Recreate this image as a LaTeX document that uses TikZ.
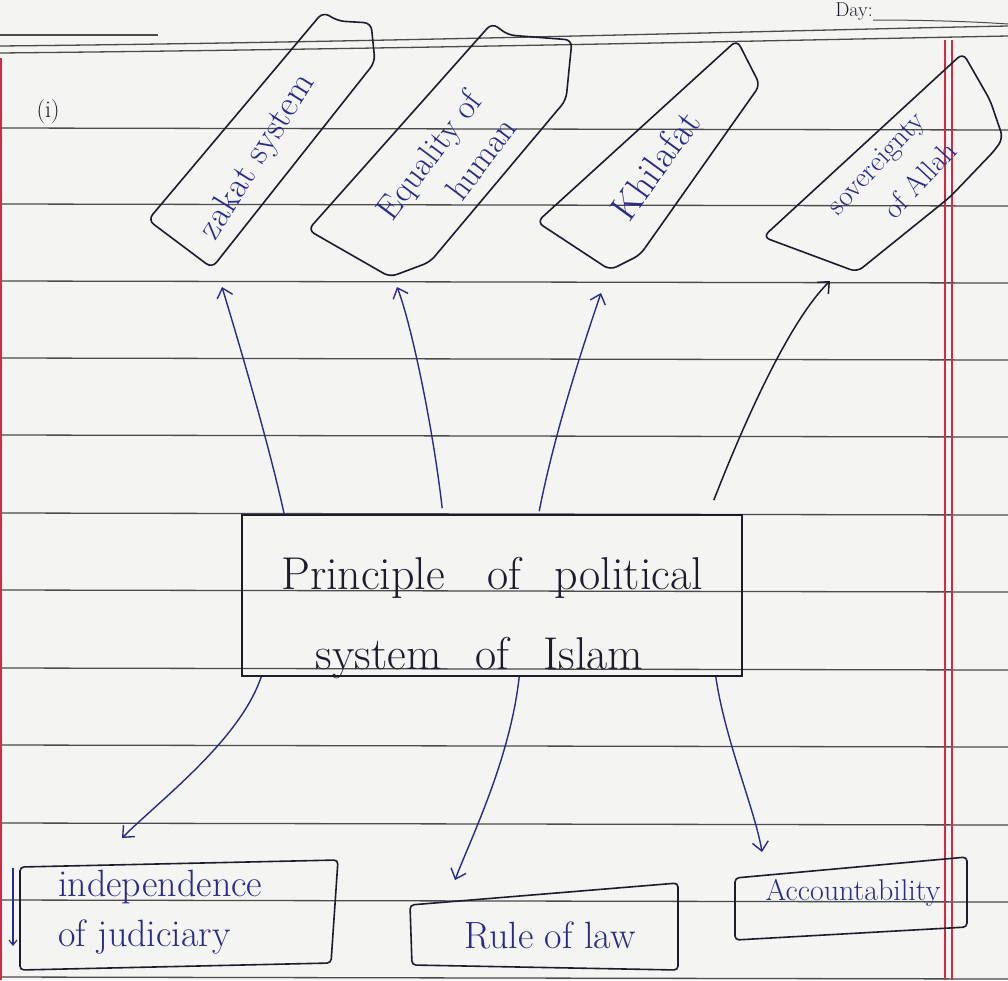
\documentclass[tikz,border=0pt]{standalone}
\usetikzlibrary{arrows.meta}
\definecolor{paper}{RGB}{244,244,242}
\definecolor{rulec}{RGB}{75,75,75}
\definecolor{bink}{RGB}{40,42,140}
\definecolor{kink}{RGB}{28,28,45}
\definecolor{marginc}{RGB}{215,40,70}
\begin{document}
\begin{tikzpicture}[x=1pt,y=-1pt,
  ruleline/.style={draw=rulec, line width=1.3pt},
  inkbox/.style={draw=kink, line width=1.6pt, rounded corners=7pt},
  conn/.style={draw=bink, line width=1.4pt, -{Straight Barb[length=9pt,width=16pt]}},
  kconn/.style={draw=kink, line width=1.5pt, -{Straight Barb[length=9pt,width=16pt]}},
  hand/.style={text=bink, inner sep=0pt},
  ktext/.style={text=kink, inner sep=0pt},
]
\fill[paper] (0,0) rectangle (1008,980);
\useasboundingbox (0,0) rectangle (1008,980);

% ruled paper
\foreach \yy in {128,204,281,358,435,513,590,668,745,823,900,977}
  \draw[ruleline] (0,\yy) -- (1008,\yy+2);
\draw[ruleline] (0,46) .. controls (400,42) and (800,30) .. (1008,26);
\draw[ruleline] (0,53) .. controls (400,49) and (800,40) .. (1008,36);
\draw[ruleline] (0,35) -- (158,35);
\draw[rulec, line width=1pt] (873,20) .. controls (930,20) and (980,22) .. (1008,24);
\node[ktext, font=\fontsize{20}{22}\selectfont, anchor=east] (day) at (873,12) {Day:};
\draw[marginc, line width=1.2pt] (945,40) -- (945,980);
\draw[marginc, line width=1.2pt] (952,40) -- (952,980);
\draw[marginc, line width=1.5pt] (1,58) -- (1,980);

\node[ktext, font=\fontsize{24}{26}\selectfont] (num) at (48,112) {(i)};

% central box
\node[draw=kink, line width=1.6pt, minimum width=500pt, minimum height=161pt, inner sep=0pt] (main) at (492,595.5) {};
\node[ktext, font=\fontsize{46}{80}\selectfont, align=center] (maintext) at (492,618)
  {Principle\hspace{42pt}of\hspace{34pt}political\\system\hspace{34pt}of\hspace{34pt}Islam\hspace*{25pt}};

% top boxes
\draw[inkbox] (148,220) -- (323,12) -- (338,21) -- (371,23) -- (375,62) -- (212,268) -- cycle;
\node[hand, font=\fontsize{36}{40}\selectfont, rotate=58] (zakat) at (258,157) {zakat system};

\draw[inkbox] (308,230) -- (492,23) -- (508,35) -- (572,40) -- (566,100) -- (430,262) -- (390,277) -- cycle;
\node[hand, font=\fontsize{34}{44}\selectfont, rotate=53, align=right] (equal) at (446,168) {Equality of\\human};

\draw[inkbox] (537,222) -- (737,40) -- (760,85) -- (640,255) -- (610,270) -- cycle;
\node[hand, font=\fontsize{38}{40}\selectfont, rotate=54] (khil) at (655,165) {Khilafat};

\draw[inkbox] (763,237) -- (963,53) -- (990,100) -- (1003,138) -- (995,150) -- (950,197) -- (857,272) -- cycle;
\node[hand, font=\fontsize{29}{44}\selectfont, rotate=47, align=right] (sov) at (892,178) {sovereignty\\of Allah};

% bottom boxes
\draw[inkbox, rounded corners=4pt] (20,867) -- (338,860) -- (331,963) -- (20,970) -- cycle;
\draw[bink, line width=1.2pt, -{Straight Barb[length=5pt,width=8pt]}] (13,868) -- (13,946);
\node[hand, font=\fontsize{38}{50}\selectfont, align=left, anchor=west] (indep) at (58,912) {independence\\of judiciary};

\draw[inkbox, rounded corners=4pt] (410,905) -- (678,883) -- (678,970) -- (412,965) -- cycle;
\node[hand, font=\fontsize{38}{40}\selectfont] (rule) at (550,935) {Rule of law};

\draw[inkbox, rounded corners=4pt] (735,878) -- (967,857) -- (967,927) -- (735,940) -- cycle;
\node[hand, font=\fontsize{30}{32}\selectfont] (acc) at (853,893) {Accountability};

% arrow ends
\coordinate (t1) at (222,287);
\coordinate (t2) at (397,287);
\coordinate (t3) at (601,293);
\coordinate (t4) at (830,281);
\coordinate (b1) at (122,838);
\coordinate (b2) at (455,880);
\coordinate (b3) at (762,852);

% connectors
\draw[conn] ([xshift=43pt]main.north west) .. controls (268,440) and (235,330) .. (t1);
\draw[conn] ([xshift=201pt,yshift=6pt]main.north west) .. controls (432,420) and (410,320) .. (t2);
\draw[conn] ([xshift=298pt,yshift=3pt]main.north west) .. controls (555,430) and (585,340) .. (t3);
\draw[kconn] ([xshift=-29pt,yshift=14pt]main.north east) .. controls (745,420) and (790,320) .. (t4);
\draw[conn] ([xshift=20pt]main.south west) .. controls (240,740) and (160,800) .. (b1);
\draw[conn] ([xshift=278pt]main.south west) .. controls (510,760) and (470,840) .. (b2);
\draw[conn] ([xshift=-27pt]main.south east) .. controls (725,740) and (755,810) .. (b3);
\end{tikzpicture}
\end{document}
